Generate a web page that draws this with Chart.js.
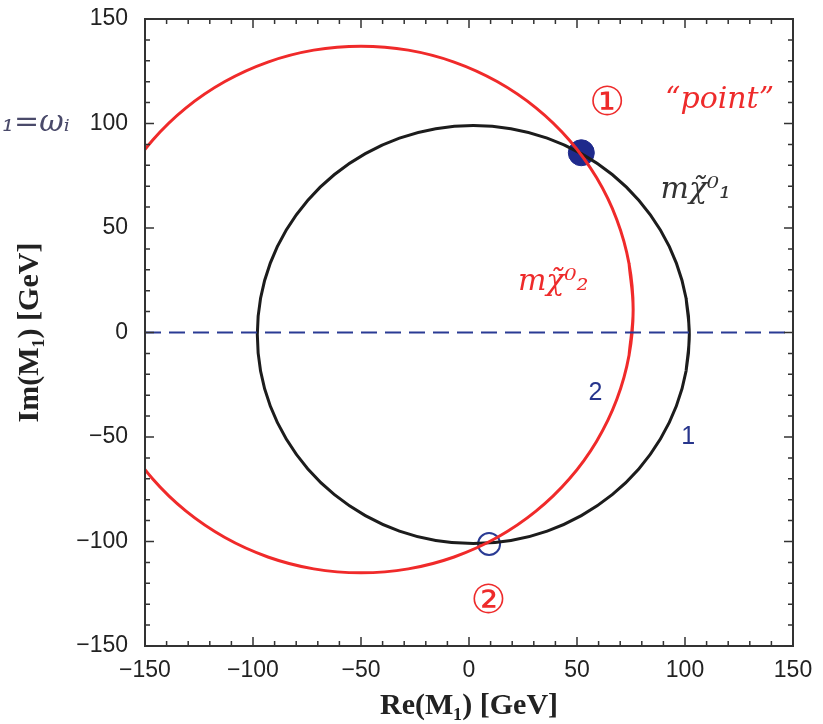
<!DOCTYPE html>
<html>
<head>
<meta charset="utf-8">
<script src="https://cdn.jsdelivr.net/npm/chart.js@4/dist/chart.umd.min.js"></script>
<style>
  body { margin: 0; background: #fff; }
  canvas { display: block; }
</style>
</head>
<body>
<canvas id="chart" width="823" height="724"></canvas>
<script>
// Curva preta (m chi1), a cada ~10 graus (com sobreposição nas pontas)
const blackRe = [100.5, 102, 100.5, 96, 88.6, 78.6, 66.3, 52, 36.2, 19.4, 2, -15.4, -32.2, -48, -62.3, -74.6, -84.6, -92, -96.5,
  -98, -96.5, -92, -84.6, -74.6, -62.3, -48, -32.2, -15.4, 2, 19.4, 36.2, 52, 66.3, 78.6, 88.6, 96, 100.5, 102, 100.5];
const blackIm = [-18.4, -1, 16.4, 33.2, 49, 63.3, 75.6, 85.6, 93, 97.5, 99, 97.5, 93, 85.6, 75.6, 63.3, 49, 33.2, 16.4,
  -1, -18.4, -35.2, -51, -65.3, -77.6, -87.6, -95, -99.5, -101, -99.5, -95, -87.6, -77.6, -65.3, -51, -35.2, -18.4, -1, 16.4];

// Curva vermelha (m chi2)
const redRe = [74.1, 76, 74.1, 68.4, 59.1, 46.5, 31, 13, -6.9, -28.1, -50, -71.9, -93.1, -113, -131, -146.5, -159.1, -168.4, -174.1,
  -176, -174.1, -168.4, -159.1, -146.5, -131, -113, -93.1, -71.9, -50, -28.1, -6.9, 13, 31, 46.5, 59.1, 68.4, 74.1, 76, 74.1];
const redIm = [-10.9, 11, 32.9, 54.1, 74, 92, 107.5, 120.1, 129.4, 135.1, 137, 135.1, 129.4, 120.1, 107.5, 92, 74, 54.1, 32.9,
  11, -10.9, -32.1, -52, -70, -85.5, -98.1, -107.4, -113.1, -115, -113.1, -107.4, -98.1, -85.5, -70, -52, -32.1, -10.9, 11, 32.9];

// Linha tracejada Im = 0
const axisRe = [-150, 150];
const axisIm = [0, 0];

// Pontos de interseção
const fullPoint = { x: 52, y: 86 };
const openPoint = { x: 9.3, y: -101.2 };

// Rótulos dos eixos
const xTicks = [-150, -100, -50, 0, 50, 100, 150];
const yTicks = [-150, -100, -50, 0, 50, 100, 150];

// Anotações (texto e posição em coordenadas dos dados)
const noteTexts = ["2", "1", "\u2460", "\u201Cpoint\u201D", "m\u03C7\u0303\u2070\u2081", "m\u03C7\u0303\u2070\u2082", "\u2461"];
const noteRe = [58.5, 101.5, 64, 116, 105, 39, 9];
const noteIm = [-29, -50, 109, 111, 68, 24, -129];
const noteColors = ["#27358c", "#27358c", "#ee2b2b", "#ee2b2b", "#333333", "#ee2b2b", "#ee2b2b"];
const noteFonts = ["25px 'Liberation Sans'", "25px 'Liberation Sans'", "40px 'DejaVu Sans'", "italic 30px 'DejaVu Serif'",
  "italic 30px 'DejaVu Serif'", "italic 30px 'DejaVu Serif'", "40px 'DejaVu Sans'"];

function toPoints(xs, ys) {
  return xs.map((x, i) => ({ x: x, y: ys[i] }));
}

// Plugin: moldura com marcas internas e anotações
const framePlugin = {
  id: "frame",
  afterDatasetsDraw(chart) {
    const ctx = chart.ctx;
    const xs = chart.scales.x;
    const ys = chart.scales.y;
    const a = chart.chartArea;
    ctx.save();
    ctx.strokeStyle = "#333";
    ctx.lineWidth = 2;
    ctx.strokeRect(a.left, a.top, a.right - a.left, a.bottom - a.top);
    ctx.lineWidth = 1.5;
    for (let v = -150; v <= 150; v += 10) {
      const len = v % 50 === 0 ? 9 : 5;
      const px = xs.getPixelForValue(v);
      const py = ys.getPixelForValue(v);
      ctx.beginPath();
      ctx.moveTo(px, a.bottom); ctx.lineTo(px, a.bottom - len);
      ctx.moveTo(px, a.top); ctx.lineTo(px, a.top + len);
      ctx.moveTo(a.left, py); ctx.lineTo(a.left + len, py);
      ctx.moveTo(a.right, py); ctx.lineTo(a.right - len, py);
      ctx.stroke();
    }
    ctx.restore();

    ctx.save();
    ctx.textAlign = "center";
    ctx.textBaseline = "middle";
    noteTexts.forEach((t, i) => {
      ctx.fillStyle = noteColors[i];
      ctx.font = noteFonts[i];
      ctx.fillText(t, xs.getPixelForValue(noteRe[i]), ys.getPixelForValue(noteIm[i]));
    });
    ctx.fillStyle = "#4a4a6a";
    ctx.font = "italic 30px 'DejaVu Serif'";
    ctx.textAlign = "left";
    ctx.fillText("\u2081=\u03C9\u1D62", 2, ys.getPixelForValue(100));
    ctx.restore();
  }
};

new Chart(document.getElementById("chart"), {
  type: "scatter",
  data: {
    datasets: [
      {
        data: toPoints(axisRe, axisIm),
        showLine: true,
        borderColor: "#2a3b94",
        borderWidth: 2,
        borderDash: [16, 8],
        pointRadius: 0
      },
      {
        data: toPoints(redRe, redIm),
        showLine: true,
        tension: 0.4,
        borderColor: "#f02a2a",
        borderWidth: 3,
        pointRadius: 0
      },
      {
        data: toPoints(blackRe, blackIm),
        showLine: true,
        tension: 0.4,
        borderColor: "#1c1c1c",
        borderWidth: 3,
        pointRadius: 0
      },
      {
        data: [fullPoint],
        pointRadius: 13,
        backgroundColor: "#1f2a8c",
        borderColor: "#1f2a8c"
      },
      {
        data: [openPoint],
        pointRadius: 11,
        backgroundColor: "rgba(0,0,0,0)",
        borderColor: "#2a3b94",
        borderWidth: 2
      }
    ]
  },
  options: {
    responsive: false,
    animation: false,
    layout: { padding: { top: 19, right: 30, left: 0, bottom: 0 } },
    plugins: {
      legend: { display: false },
      tooltip: { enabled: false }
    },
    scales: {
      x: {
        type: "linear",
        min: -150,
        max: 150,
        afterBuildTicks: (scale) => { scale.ticks = xTicks.map(v => ({ value: v })); },
        afterFit: (scale) => { scale.height = 78; scale.paddingLeft = 0; scale.paddingRight = 0; },
        grid: { display: false, drawTicks: false },
        border: { display: false },
        ticks: {
          padding: 11,
          color: "#222",
          font: { family: "'Liberation Sans'", size: 23 },
          callback: (v) => String(v).replace("-", "\u2212")
        },
        title: {
          display: true,
          text: "Re(M\u2081) [GeV]",
          color: "#222",
          font: { family: "'Liberation Serif'", size: 30, weight: "bold" },
          padding: { top: 0, bottom: 0 }
        }
      },
      y: {
        type: "linear",
        min: -150,
        max: 150,
        afterBuildTicks: (scale) => { scale.ticks = yTicks.map(v => ({ value: v })); },
        afterFit: (scale) => { scale.width = 145; scale.paddingTop = 0; scale.paddingBottom = 0; },
        grid: { display: false, drawTicks: false },
        border: { display: false },
        ticks: {
          padding: 17,
          color: "#222",
          font: { family: "'Liberation Sans'", size: 23 },
          callback: (v) => String(v).replace("-", "\u2212")
        },
        title: {
          display: true,
          text: "Im(M\u2081) [GeV]",
          color: "#222",
          font: { family: "'Liberation Serif'", size: 30, weight: "bold" },
          padding: { top: 12, bottom: 0 }
        }
      }
    }
  },
  plugins: [framePlugin]
});
</script>
</body>
</html>
